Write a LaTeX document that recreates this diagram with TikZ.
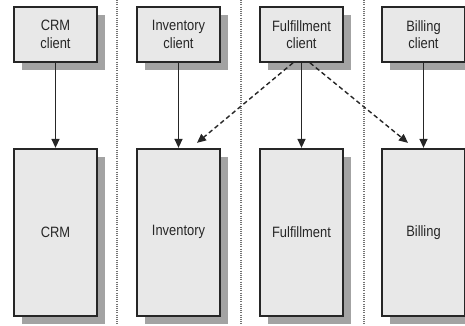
\documentclass[tikz,border=0pt]{standalone}
\usepackage{fontspec}
\setmainfont{Liberation Sans}[FakeStretch=0.86]
\usepackage{tikz}
\usetikzlibrary{positioning, shadows, arrows.meta}
\definecolor{boxfill}{HTML}{E8E8E8}
\definecolor{boxline}{HTML}{262626}
\tikzset{
    base/.style={draw=boxline, line width=1.7pt, fill=boxfill, rectangle, minimum width=83pt, align=center, text=black!85,
        font=\fontsize{15}{17.5}\selectfont, inner sep=0pt,
        drop shadow={shadow xshift=8pt, shadow yshift=-8pt, fill=black!45, opacity=0.8}},
    client/.style={base, minimum height=55pt},
    service/.style={base, minimum height=167pt},
    arrow/.style={line width=1.4pt, draw=boxline, -{Triangle[length=9pt, width=8pt]}},
    dasharrow/.style={arrow, dash pattern=on 4.5pt off 3pt},
    divider/.style={gray!90!black, line width=1.8pt, dash pattern=on 1pt off 1.2pt}
}

\begin{document}
\begin{tikzpicture}[node distance=85pt]
\useasboundingbox (0,0) rectangle (465pt,-325pt);
\node[client] (crmc) at (55.5pt,-34.5pt) {CRM\\client};
\node[client] (invc) at (178.5pt,-34.5pt) {Inventory\\client};
\node[client] (fulc) at (301.5pt,-34.5pt) {Fulfillment\\client};
\node[client] (bilc) at (423.5pt,-34.5pt) {Billing\\client};
\node[service, below=of crmc] (crm) {CRM};
\node[service, below=of invc] (inv) {Inventory};
\node[service, below=of fulc] (ful) {Fulfillment};
\node[service, below=of bilc] (bil) {Billing};
% swim lanes
\coordinate (d1top) at (117pt,0pt);
\coordinate (d1bot) at (117pt,-325pt);
\coordinate (d2top) at (241pt,0pt);
\coordinate (d2bot) at (241pt,-325pt);
\coordinate (d3top) at (364pt,0pt);
\coordinate (d3bot) at (364pt,-325pt);
\draw[divider] (d1top) -- (d1bot);
\draw[divider] (d2top) -- (d2bot);
\draw[divider] (d3top) -- (d3bot);
\draw[arrow] (crmc) -- (crm);
\draw[arrow] (invc) -- (inv);
\draw[arrow] (fulc) -- (ful);
\draw[arrow] (bilc) -- (bil);
\draw[dasharrow] ([xshift=-8.5pt]fulc.south) -- ([xshift=18.5pt,yshift=5pt]inv.north);
\draw[dasharrow] ([xshift=8.5pt]fulc.south) -- ([xshift=-15.5pt,yshift=5pt]bil.north);
\end{tikzpicture}
\end{document}
